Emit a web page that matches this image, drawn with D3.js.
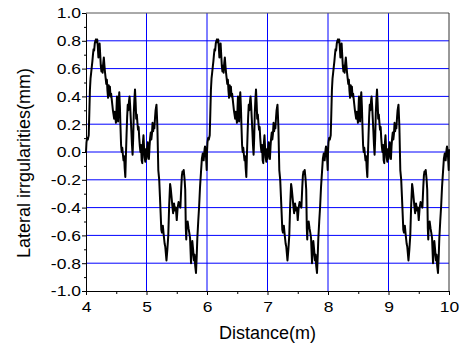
<!DOCTYPE html>
<html>
<head>
<meta charset="utf-8">
<script src="https://cdn.jsdelivr.net/npm/d3@7"></script>
<style>
  html, body { margin: 0; padding: 0; background: #fff; }
  svg { display: block; font-family: "Liberation Sans", Arial, sans-serif; }
</style>
</head>
<body>
<svg id="chart" width="463" height="348"></svg>
<script>
// ---- data ----
// One wavelength of the lateral irregularity profile: [offset within wavelength (m), value (mm)]
const profileOffsets = [
  0.000,0.008,0.018,0.030,0.045,0.055,0.065,0.075,0.085,0.095,
  0.105,0.115,0.125,0.135,0.145,0.155,0.165,0.175,0.185,0.195,
  0.205,0.215,0.225,0.235,0.245,0.255,0.265,0.275,0.285,0.295,
  0.305,0.315,0.325,0.335,0.345,0.355,0.365,0.375,0.385,0.395,
  0.405,0.415,0.425,0.435,0.445,0.455,0.465,0.475,0.485,0.495,
  0.505,0.512,0.520,0.530,0.540,0.550,0.560,0.570,0.580,0.590,
  0.600,0.610,0.620,0.630,0.640,0.650,0.660,0.670,0.680,0.690,
  0.700,0.710,0.720,0.730,0.740,0.750,0.760,0.770,0.780,0.790,
  0.800,0.810,0.820,0.830,0.840,0.850,0.860,0.870,0.880,0.890,
  0.900,0.910,0.920,0.930,0.940,0.950,0.960,0.970,0.980,0.990,
  1.000,1.010,1.020,1.030,1.040,1.050,1.060,1.070,1.080,1.090,
  1.100,1.110,1.120,1.130,1.140,1.150,1.165,1.180,1.195,1.210,
  1.225,1.245,1.255,1.270,1.285,1.300,1.310,1.320,1.330,1.345,
  1.360,1.375,1.390,1.400,1.415,1.430,1.440,1.455,1.470,1.485,
  1.500,1.515,1.530,1.545,1.560,1.575,1.585,1.595,1.605,1.615,
  1.630,1.640,1.650,1.657,1.665,1.680,1.695,1.707,1.720,1.736,
  1.747,1.757,1.770,1.785,1.795,1.805,1.818,1.830,1.840,1.855,
  1.870,1.885,1.900,1.915,1.930,1.945,1.960,1.967,1.980,1.995
];
const profileValues = [
  0.00,0.07,0.10,0.09,0.12,0.28,0.45,0.53,0.57,0.61,
  0.65,0.70,0.74,0.73,0.78,0.80,0.81,0.79,0.81,0.76,
  0.68,0.75,0.78,0.70,0.62,0.58,0.62,0.57,0.64,0.68,
  0.62,0.57,0.53,0.49,0.52,0.44,0.39,0.48,0.41,0.47,
  0.40,0.42,0.38,0.34,0.30,0.27,0.24,0.29,0.25,0.21,
  0.32,0.40,0.30,0.22,0.36,0.43,0.33,0.18,0.05,0.00,
  0.03,-0.02,-0.06,-0.03,-0.12,-0.18,-0.02,0.12,0.25,0.34,
  0.30,0.36,0.40,0.33,0.24,0.15,0.05,-0.02,0.10,0.28,
  0.38,0.45,0.36,0.24,0.27,0.21,0.16,0.18,0.10,0.04,
  0.00,0.05,-0.06,-0.08,0.06,0.12,0.03,-0.04,-0.07,0.02,
  -0.05,0.03,0.07,-0.02,-0.05,0.04,0.10,0.14,0.09,0.13,
  0.21,0.15,0.19,0.17,0.24,0.30,0.34,0.18,-0.13,-0.20,
  -0.35,-0.56,-0.58,-0.53,-0.60,-0.66,-0.68,-0.73,-0.78,-0.70,
  -0.60,-0.38,-0.23,-0.26,-0.33,-0.40,-0.44,-0.37,-0.42,-0.40,
  -0.49,-0.40,-0.36,-0.38,-0.40,-0.25,-0.17,-0.14,-0.15,-0.13,
  -0.20,-0.27,-0.55,-0.63,-0.52,-0.50,-0.55,-0.58,-0.62,-0.80,
  -0.72,-0.64,-0.70,-0.78,-0.74,-0.82,-0.87,-0.75,-0.62,-0.50,
  -0.39,-0.25,-0.15,-0.05,-0.01,-0.06,0.02,0.04,0.00,-0.13
];
// The profile repeats with a 2 m wavelength, starting at these distances
const cycleStarts = [4, 6, 8];
const endPoint = [10.0, 0.02];

const xTickValues = [4, 5, 6, 7, 8, 9, 10];
const xTickLabels = ["4", "5", "6", "7", "8", "9", "10"];
const xMinorTicks = [4.5, 5.5, 6.5, 7.5, 8.5, 9.5];
const yTickValues = [-1.0, -0.8, -0.6, -0.4, -0.2, 0.0, 0.2, 0.4, 0.6, 0.8, 1.0];
const yTickLabels = ["-1.0", "-0.8", "-0.6", "-0.4", "-0.2", "0.0", "0.2", "0.4", "0.6", "0.8", "1.0"];
const yMinorTicks = [-0.9, -0.7, -0.5, -0.3, -0.1, 0.1, 0.3, 0.5, 0.7, 0.9];
const xGrid = [5, 6, 7, 8, 9];
const yGrid = [-0.8, -0.6, -0.4, -0.2, 0.0, 0.2, 0.4, 0.6, 0.8];
const xTitle = "Distance(m)";
const yTitle = "Lateral irrgularities(mm)";

// ---- build series ----
const series = [];
cycleStarts.forEach(s => {
  profileOffsets.forEach((o, i) => series.push([s + o, profileValues[i]]));
});
series.push(endPoint);

// ---- drawing ----
const pL = 86, pR = 449, pT = 13, pB = 291;
const svg = d3.select("#chart");
const x = d3.scaleLinear().domain([4, 10]).range([pL, pR]);
const y = d3.scaleLinear().domain([-1, 1]).range([pB, pT]);

// grid
const grid = svg.append("g").attr("stroke", "#0000ff").attr("stroke-width", 1);
grid.selectAll("line.v").data(xGrid).join("line").attr("class", "v")
  .attr("x1", d => x(d)).attr("x2", d => x(d)).attr("y1", pT).attr("y2", pB);
grid.selectAll("line.h").data(yGrid).join("line").attr("class", "h")
  .attr("x1", pL).attr("x2", pR).attr("y1", d => y(d)).attr("y2", d => y(d));

// frame top/right
svg.append("line").attr("x1", pL).attr("x2", pR).attr("y1", pT).attr("y2", pT)
  .attr("stroke", "#555").attr("stroke-width", 1);
svg.append("line").attr("x1", pR).attr("x2", pR).attr("y1", pT).attr("y2", pB)
  .attr("stroke", "#333").attr("stroke-width", 1);

// data line
svg.append("path").datum(series)
  .attr("fill", "none").attr("stroke", "#000").attr("stroke-width", 2)
  .attr("stroke-linejoin", "round")
  .attr("d", d3.line().x(d => x(d[0])).y(d => y(d[1])));

const SX = 1.25;
// axes
const yAxis = svg.append("g").attr("transform", `translate(${pL},0)`)
  .call(d3.axisLeft(y).tickValues(yTickValues).tickSize(4).tickSizeOuter(0)
    .tickFormat((d, i) => yTickLabels[i]));
yAxis.selectAll(".tick text")
  .attr("x", 0).attr("dy", "0.35em")
  .attr("transform", `translate(-5,0) scale(${SX},1)`)
  .attr("font-size", 14).attr("font-family", "Liberation Sans, Arial, sans-serif").attr("fill", "#000");
svg.append("g").attr("transform", `translate(${pL},0)`)
  .call(d3.axisLeft(y).tickValues(yMinorTicks).tickSize(2).tickFormat(""))
  .call(g => g.select(".domain").remove());

const xAxis = svg.append("g").attr("transform", `translate(0,${pB})`)
  .call(d3.axisBottom(x).tickValues(xTickValues).tickSize(4).tickSizeOuter(0)
    .tickFormat((d, i) => xTickLabels[i]));
xAxis.selectAll(".tick text")
  .attr("y", 0).attr("dy", "0.71em")
  .attr("transform", `translate(0,11) scale(${SX},1)`)
  .attr("font-size", 14).attr("font-family", "Liberation Sans, Arial, sans-serif").attr("fill", "#000");
svg.append("g").attr("transform", `translate(0,${pB})`)
  .call(d3.axisBottom(x).tickValues(xMinorTicks).tickSize(3).tickFormat(""))
  .call(g => g.select(".domain").remove());

svg.selectAll(".domain").attr("stroke", "#000");
svg.selectAll(".tick line").attr("stroke", "#000");

// titles
svg.append("text").attr("x", (pL + pR) / 2).attr("y", 339)
  .attr("text-anchor", "middle").attr("font-size", 18).attr("fill", "#000")
  .text(xTitle);
svg.append("text").attr("transform", `translate(30,163) rotate(-90)`)
  .attr("text-anchor", "middle").attr("font-size", 18).attr("fill", "#000")
  .text(yTitle);
</script>
</body>
</html>
